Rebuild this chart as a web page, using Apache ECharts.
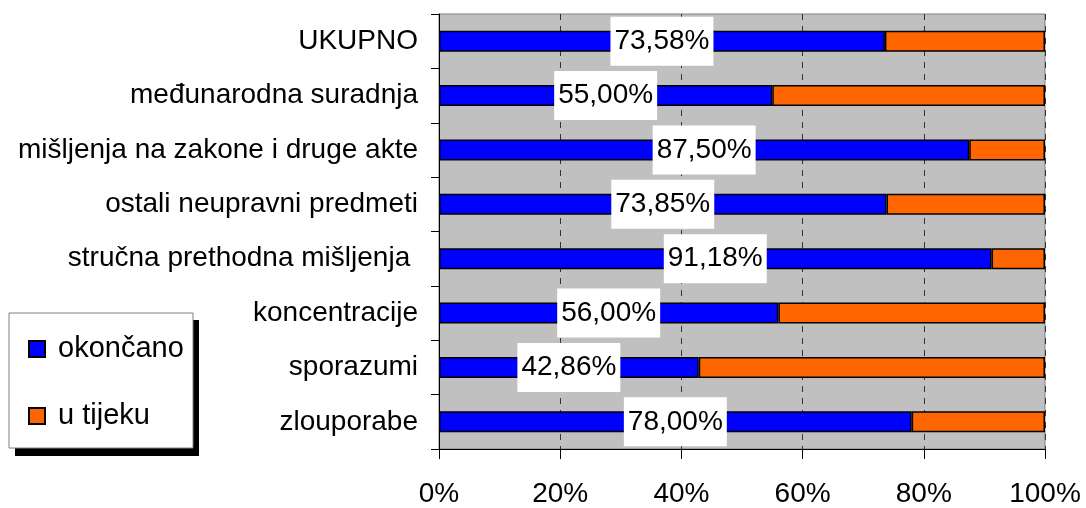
<!DOCTYPE html>
<html>
<head>
<meta charset="utf-8">
<script src="https://cdn.jsdelivr.net/npm/echarts@6/dist/echarts.min.js"></script>
<style>
  html, body { margin: 0; padding: 0; background: #fff; }
  #chart { width: 1086px; height: 508px; }
</style>
</head>
<body>
<div id="chart"></div>
<script>
// ── data (top to bottom) ──
var categories = [
    "UKUPNO",
    "međunarodna suradnja",
    "mišljenja na zakone i druge akte",
    "ostali neupravni predmeti",
    "stručna prethodna mišljenja ",
    "koncentracije",
    "sporazumi",
    "zlouporabe"
];
var finished = [73.58, 55.00, 87.50, 73.85, 91.18, 56.00, 42.86, 78.00];
var ongoing  = [26.42, 45.00, 12.50, 26.15, 8.82, 44.00, 57.14, 22.00];
var xTicks = [0, 20, 40, 60, 80, 100];
var seriesNames = ["okončano", "u tijeku"];

var FONT = "Liberation Sans, Arial, sans-serif";

function fmtPct(v) {
    return v.toFixed(2).replace(".", ",") + "%";
}

var chart = echarts.init(document.getElementById("chart"));
chart.setOption({
    animation: false,
    textStyle: { fontFamily: FONT },
    grid: {
        left: 439, right: 41, top: 14, bottom: 59,
        show: true, backgroundColor: "#c0c0c0", borderColor: "#808080", borderWidth: 1
    },
    xAxis: {
        type: "value", min: xTicks[0], max: xTicks[xTicks.length - 1], interval: 20,
        axisLine: { show: true, lineStyle: { color: "#000", width: 1 } },
        axisTick: { show: true, length: 10, lineStyle: { color: "#000" } },
        splitLine: { show: true, lineStyle: { color: "#333", type: [6, 6], width: 1 } },
        axisLabel: { formatter: "{value}%", fontSize: 28, color: "#000", margin: 31, fontFamily: FONT }
    },
    yAxis: {
        type: "category", data: categories, inverse: true,
        axisLine: { show: true, lineStyle: { color: "#000", width: 1 } },
        axisTick: { show: true, length: 8, lineStyle: { color: "#000" } },
        axisLabel: { fontSize: 28, color: "#000", margin: 21, fontFamily: FONT }
    },
    legend: {
        orient: "vertical", left: 28, top: 334, itemGap: 37, padding: 0,
        icon: "rect", itemWidth: 16, itemHeight: 16,
        textStyle: { fontSize: 29, color: "#000", lineHeight: 30, fontFamily: FONT, padding: [0, 0, 0, 8] },
        data: seriesNames, z: 10
    },
    graphic: [
        { type: "rect", z: 1, shape: { x: 15, y: 320, width: 184, height: 136 }, style: { fill: "#000" } },
        { type: "rect", z: 2, shape: { x: 9, y: 313, width: 184, height: 135 },
          style: { fill: "#fff", stroke: "#808080", lineWidth: 1 } }
    ],
    series: [
        {
            name: seriesNames[0], type: "bar", stack: "t", data: finished, barWidth: 21,
            itemStyle: { color: "#0000ff", borderColor: "#000", borderWidth: 1.5 },
            label: {
                show: true, position: "inside", color: "#000", fontSize: 28, fontFamily: FONT,
                backgroundColor: "#fff", padding: [8, 4], lineHeight: 33,
                formatter: function(p) { return fmtPct(p.value); }
            },
            z: 3
        },
        {
            name: seriesNames[1], type: "bar", stack: "t", data: ongoing, barWidth: 21,
            itemStyle: { color: "#ff6600", borderColor: "#000", borderWidth: 1.5 },
            z: 2
        }
    ]
});
</script>
</body>
</html>
